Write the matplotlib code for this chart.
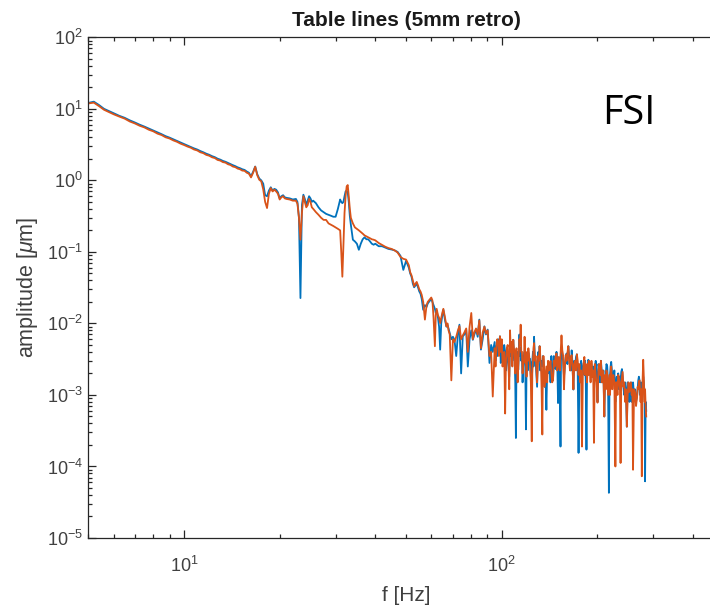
import matplotlib
matplotlib.use('Agg')
import matplotlib.pyplot as plt
from matplotlib.ticker import LogLocator, NullFormatter, FixedLocator

# ---------------- data ----------------
freq_low = [5.0, 5.2, 5.4, 5.6, 5.8, 6.0, 6.25, 6.5, 6.75, 7.0,
            7.25, 7.5, 7.75, 8.0, 8.25, 8.5, 8.75, 9.0, 9.25, 9.5,
            9.75, 10.0, 10.25, 10.5, 10.75, 11.0, 11.25, 11.5, 11.75, 12.0,
            12.25, 12.5, 12.75, 13.0, 13.25, 13.5, 13.75, 14.0, 14.25, 14.5,
            14.75, 15.0, 15.25, 15.5, 15.75, 16.0]
blue_low = [12.1, 12.6, 11.3, 10.0, 9.3, 8.7, 8.0, 7.5, 6.9, 6.45,
            6.0, 5.65, 5.3, 5.0, 4.68, 4.42, 4.15, 3.96, 3.75, 3.56,
            3.38, 3.22, 3.07, 2.94, 2.8, 2.7, 2.57, 2.47, 2.36, 2.28,
            2.18, 2.11, 2.01, 1.95, 1.87, 1.82, 1.75, 1.69, 1.63, 1.58,
            1.52, 1.48, 1.43, 1.4, 1.33, 1.28]
orange_low = [11.9, 12.2, 10.9, 9.7, 9.0, 8.4, 7.8, 7.3, 6.65, 6.25,
              5.8, 5.5, 5.1, 4.85, 4.5, 4.3, 4.0, 3.85, 3.62, 3.46,
              3.26, 3.12, 2.97, 2.86, 2.7, 2.62, 2.47, 2.4, 2.27, 2.21,
              2.1, 2.05, 1.93, 1.89, 1.8, 1.77, 1.68, 1.64, 1.56, 1.53,
              1.46, 1.43, 1.37, 1.36, 1.28, 1.24]

freq_mid = [16.25, 16.5, 16.75, 17.0, 17.25, 17.5, 17.75, 18.0, 18.25, 18.5,
            18.75, 19.0, 19.25, 19.5, 19.75, 20.0, 20.25, 20.5, 20.75, 21.0,
            21.5, 22.0, 22.5, 22.75, 23.0, 23.25, 23.5, 23.75, 24.0, 24.25,
            24.5, 24.75, 25.0, 25.25, 25.5, 26.0, 26.5, 27.0, 27.5, 28.0,
            28.5, 29.0, 29.5, 30.0, 30.5, 31.0, 31.25, 31.5, 31.75, 32.0,
            32.25, 32.5, 32.75, 33.0, 33.25, 33.5, 34.0, 34.5, 35.0, 35.5,
            36.0, 36.5, 37.0, 37.5, 38.0, 38.5, 39.0, 39.5, 40.0, 41.0,
            42.0, 43.0, 44.0, 45.0, 46.0, 47.0, 48.0, 49.0, 50.0]
blue_mid = [1.14, 1.32, 1.56, 1.22, 1.06, 1.0, 0.9, 0.62, 0.6, 0.72,
            0.8, 0.72, 0.76, 0.74, 0.68, 0.56, 0.6, 0.62, 0.58, 0.57,
            0.56, 0.54, 0.55, 0.5, 0.3, 0.0226, 0.45, 0.63, 0.55, 0.45,
            0.52, 0.6, 0.56, 0.5, 0.52, 0.48, 0.42, 0.38, 0.36, 0.34,
            0.33, 0.32, 0.31, 0.31, 0.4, 0.54, 0.5, 0.48, 0.5, 0.6,
            0.7, 0.72, 0.68, 0.5, 0.32, 0.24, 0.148, 0.14, 0.13, 0.107,
            0.13, 0.15, 0.16, 0.15, 0.15, 0.14, 0.13, 0.126, 0.13, 0.12,
            0.12, 0.115, 0.11, 0.108, 0.105, 0.1, 0.088, 0.056, 0.075]
orange_mid = [1.1, 1.28, 1.55, 1.18, 1.02, 0.97, 0.75, 0.5, 0.41, 0.65,
              0.78, 0.7, 0.74, 0.7, 0.65, 0.54, 0.58, 0.6, 0.56, 0.55,
              0.54, 0.52, 0.52, 0.47, 0.3, 0.148, 0.35, 0.6, 0.5, 0.42,
              0.45, 0.55, 0.5, 0.42, 0.4, 0.36, 0.33, 0.3, 0.28, 0.28,
              0.25, 0.24, 0.23, 0.22, 0.21, 0.2, 0.1, 0.045, 0.12, 0.35,
              0.6, 0.82, 0.86, 0.6, 0.4, 0.3, 0.25, 0.22, 0.21, 0.2,
              0.19, 0.18, 0.17, 0.165, 0.16, 0.155, 0.15, 0.148, 0.145, 0.133,
              0.125, 0.118, 0.113, 0.11, 0.105, 0.098, 0.085, 0.08, 0.078]

freq_high = [51.0, 51.5, 52.0, 52.5, 53.0, 53.5, 54.0, 54.5, 55.0, 55.5,
             56.0, 56.6, 57.3, 58.0, 58.5, 59.0, 59.5, 60.0, 60.5, 61.0,
             61.6, 62.0, 62.4, 63.0, 63.5, 64.0, 64.5, 65.0, 65.5, 66.3,
             67.0, 67.5, 68.0, 68.6, 69.4, 70.2, 71.0, 71.9, 72.8, 73.6,
             74.5, 75.4, 76.3, 77.3, 78.2, 79.2, 80.2, 81.1, 82.0, 83.0,
             84.0, 85.0, 86.0, 87.1, 88.2, 89.2, 90.3, 91.5, 92.6, 93.7]
blue_high = [0.06, 0.05, 0.045, 0.036, 0.032, 0.034, 0.036, 0.032, 0.028, 0.026,
             0.022, 0.0155, 0.018, 0.017, 0.019, 0.02, 0.021, 0.022, 0.02, 0.018,
             0.016, 0.014, 0.015, 0.012, 0.009, 0.0043, 0.01, 0.013, 0.0155, 0.011,
             0.009, 0.0095, 0.0085, 0.0073, 0.006, 0.0065, 0.0059, 0.0035, 0.007, 0.0096,
             0.002, 0.0066, 0.007, 0.0082, 0.0025, 0.006, 0.008, 0.0059, 0.007, 0.0082,
             0.0065, 0.0113, 0.0043, 0.006, 0.0091, 0.007, 0.0082, 0.0028, 0.005, 0.004]
orange_high = [0.065, 0.052, 0.047, 0.04, 0.033, 0.036, 0.038, 0.034, 0.03, 0.028,
               0.025, 0.02, 0.0113, 0.018, 0.02, 0.021, 0.022, 0.023, 0.021, 0.012,
               0.0048, 0.013, 0.016, 0.013, 0.012, 0.0101, 0.012, 0.014, 0.016, 0.012,
               0.0091, 0.01, 0.008, 0.007, 0.0016, 0.006, 0.0055, 0.0065, 0.008, 0.0092,
               0.006, 0.0068, 0.0075, 0.0085, 0.004, 0.009, 0.014, 0.006, 0.0075, 0.0085,
               0.007, 0.011, 0.0045, 0.0075, 0.009, 0.0072, 0.008, 0.0035, 0.004, 0.00095]

freq_top = [95.0, 95.6, 96.2, 96.8, 97.4, 98.0, 98.7, 99.3, 100.0, 100.6,
            101.2, 101.8, 102.5, 103.1, 103.8, 104.4, 105.0, 105.6, 106.2, 106.8,
            107.4, 108.0, 108.7, 109.2, 109.8, 110.3, 110.8, 111.3, 111.8, 112.2,
            112.7, 113.2, 113.7, 114.2, 114.7, 115.2, 115.8, 116.3, 116.9, 117.5,
            118.0, 118.6, 119.2, 119.7, 120.2, 120.7, 121.3, 122.0, 122.8, 123.5,
            124.3, 124.8, 125.4, 125.9, 126.4, 127.1, 127.8, 128.5, 129.2, 129.8,
            130.4, 131.0, 131.6, 132.2, 132.9, 133.5, 134.2, 134.7, 135.3, 135.9,
            136.5, 137.3, 138.2, 139.0, 139.9, 140.7, 141.6, 142.4, 143.3, 144.1,
            145.0, 145.9, 146.8, 147.7, 148.7, 149.5, 150.4, 151.1, 151.8, 152.4,
            153.1, 153.6, 154.2, 155.1, 156.0, 157.0, 158.0, 159.0, 160.0, 161.0,
            162.0, 163.0, 164.0, 165.0, 166.0, 167.0, 168.1, 169.1, 170.2, 171.3,
            172.4, 173.4, 174.5, 175.6, 176.7, 177.8, 178.9, 180.0, 181.1, 182.0,
            183.0, 183.9, 184.8, 185.6, 186.4, 187.2, 188.0, 189.2, 190.4, 191.6,
            192.8, 194.0, 195.1, 196.3, 197.6, 198.9, 200.2, 201.5, 202.7, 204.0,
            205.2, 206.4, 207.7, 209.0, 210.3, 211.4, 212.5, 213.6, 214.8, 216.1,
            217.4, 218.3, 219.2, 220.1, 221.1, 222.8, 224.5, 226.2, 227.9, 229.0,
            230.2, 231.4, 232.6, 233.6, 234.6, 235.6, 236.6, 237.8, 239.0, 240.2,
            241.5, 243.0, 244.5, 246.0, 247.6, 249.1, 250.7, 252.2, 253.8, 255.1,
            256.4, 257.7, 259.0, 260.9, 262.8, 264.7, 266.7, 267.8, 269.0, 270.2,
            271.4, 272.4, 273.5, 274.7, 276.0, 277.4, 278.8, 280.0, 281.0, 281.8,
            282.6, 283.8, 285.0]
blue_top = [0.0055, 0.003, 0.0048, 0.0035, 0.006, 0.004, 0.0066, 0.0028, 0.005, 0.004,
            0.0031, 0.005, 0.004, 0.0022, 0.0043, 0.0035, 0.0025, 0.0018, 0.005, 0.0035,
            0.0045, 0.003, 0.0059, 0.004, 0.003, 0.0015, 0.00025, 0.003, 0.004, 0.0032,
            0.00225, 0.0038, 0.007, 0.0035, 0.0045, 0.003, 0.0035, 0.0015, 0.0028, 0.0035,
            0.004, 0.0025, 0.00033, 0.0025, 0.003, 0.0022, 0.0039, 0.0028, 0.0032, 0.0018,
            0.0028, 0.003, 0.004, 0.0025, 0.0065, 0.0035, 0.003, 0.002, 0.0013, 0.0028,
            0.004, 0.003, 0.0048, 0.0022, 0.003, 0.0028, 0.0025, 0.0035, 0.003, 0.002,
            0.0013, 0.002, 0.00062, 0.0022, 0.002, 0.0028, 0.0025, 0.0015, 0.0035, 0.002,
            0.0016, 0.0035, 0.003, 0.0023, 0.004, 0.003, 0.00077, 0.0028, 0.0026, 0.0014,
            0.00019, 0.003, 0.0042, 0.0036, 0.003, 0.0018, 0.0025, 0.0034, 0.0038, 0.0027,
            0.0048, 0.0036, 0.003, 0.0022, 0.0042, 0.0027, 0.00119, 0.003, 0.0025, 0.0034,
            0.0037, 0.0022, 0.000155, 0.0019, 0.0023, 0.003, 0.0019, 0.0023, 0.0028, 0.0019,
            0.003, 0.0015, 0.000172, 0.0023, 0.0025, 0.0031, 0.003, 0.0019, 0.0023, 0.0028,
            0.0019, 0.0025, 0.0015, 0.0023, 0.003, 0.0019, 0.0008, 0.0027, 0.0023, 0.0015,
            0.003, 0.0022, 0.0015, 0.0022, 0.0005, 0.0015, 0.0019, 0.0027, 0.0025, 0.0015,
            0.0000428, 0.0012, 0.0019, 0.0025, 0.0029, 0.0019, 0.0015, 0.0022, 0.0008, 0.0015,
            0.0018, 0.0012, 0.002, 0.0015, 0.0012, 0.0018, 0.0015, 0.0021, 0.0023, 0.0018,
            0.0013, 0.001, 0.0015, 0.0012, 0.00036, 0.0015, 0.0012, 0.0008, 0.0013, 0.0015,
            0.0008, 0.0012, 0.0015, 0.001, 0.0012, 0.0008, 0.00095, 0.0012, 0.0016, 0.0018,
            0.0016, 0.001, 0.0012, 0.0015, 0.0013, 0.0012, 0.0018, 0.0015, 0.0012, 0.0009,
            0.000062, 0.0008, 0.0006]
orange_top = [0.0045, 0.0025, 0.0048, 0.006, 0.0055, 0.0035, 0.0066, 0.004, 0.006, 0.0025,
              0.0035, 0.004, 0.00055, 0.003, 0.0045, 0.005, 0.0028, 0.0012, 0.008, 0.004,
              0.0055, 0.0025, 0.0059, 0.0045, 0.004, 0.002, 0.0035, 0.0045, 0.003, 0.0015,
              0.0025, 0.004, 0.006, 0.005, 0.0096, 0.004, 0.004, 0.002, 0.0028, 0.003,
              0.0065, 0.0028, 0.0035, 0.0018, 0.004, 0.003, 0.0045, 0.0035, 0.0025, 0.0015,
              0.000225, 0.002, 0.003, 0.0045, 0.0053, 0.003, 0.0035, 0.0025, 0.0015, 0.0025,
              0.0035, 0.003, 0.0048, 0.0035, 0.0025, 0.0012, 0.00028, 0.002, 0.0035, 0.0025,
              0.0013, 0.0018, 0.0025, 0.0015, 0.003, 0.0022, 0.0025, 0.003, 0.002, 0.0015,
              0.0016, 0.003, 0.0025, 0.0034, 0.0038, 0.0022, 0.0025, 0.0034, 0.003, 0.0022,
              0.0036, 0.0048, 0.0068, 0.0042, 0.0036, 0.0012, 0.0025, 0.0036, 0.003, 0.0039,
              0.0048, 0.003, 0.0022, 0.0034, 0.0036, 0.0025, 0.0012, 0.0027, 0.003, 0.0022,
              0.0037, 0.003, 0.0019, 0.0027, 0.0015, 0.0022, 0.00019, 0.0019, 0.0028, 0.0034,
              0.0019, 0.0027, 0.0025, 0.0015, 0.0027, 0.0019, 0.003, 0.0025, 0.0015, 0.003,
              0.0018, 0.0022, 0.000214, 0.0027, 0.0019, 0.0015, 0.00078, 0.0022, 0.0027, 0.0019,
              0.003, 0.0015, 0.0022, 0.0018, 0.0005, 0.0019, 0.0012, 0.0022, 0.0019, 0.001,
              0.0015, 0.0019, 0.001, 0.0019, 0.0025, 0.0012, 0.0019, 0.0015, 0.0001, 0.0015,
              0.0015, 0.001, 0.0019, 0.0018, 0.0015, 0.0012, 0.000112, 0.0015, 0.0018, 0.0021,
              0.0013, 0.0015, 0.0008, 0.0012, 0.00036, 0.001, 0.0015, 0.0011, 0.0013, 0.0015,
              0.001, 0.0012, 0.00009, 0.0012, 0.0011, 0.0007, 0.00095, 0.0013, 0.0012, 0.0015,
              0.0016, 0.0012, 0.0008, 0.0012, 0.000073, 0.0015, 0.0031, 0.0018, 0.001, 0.0008,
              0.0012, 0.0007, 0.0005]

freq = freq_low + freq_mid + freq_high + freq_top
amp_blue = blue_low + blue_mid + blue_high + blue_top
amp_orange = orange_low + orange_mid + orange_high + orange_top
assert len(freq) == len(amp_blue) == len(amp_orange)

title_text = 'Table lines (5mm retro)'
xlabel_text = 'f [Hz]'
ylabel_text = r'amplitude [$\mu$m]'
note_text = 'FSI'
x_major = [1e1, 1e2]
y_major = [1e-5, 1e-4, 1e-3, 1e-2, 1e-1, 1e0, 1e1, 1e2]

# ---------------- figure ----------------
plt.rcParams['font.family'] = ['Liberation Sans', 'DejaVu Sans']
plt.rcParams['mathtext.fontset'] = 'custom'
plt.rcParams['mathtext.rm'] = 'Liberation Sans'
plt.rcParams['mathtext.it'] = 'Liberation Sans:italic'

W, H = 710, 608
fig = plt.figure(figsize=(W / 100, H / 100), dpi=100)
ax = fig.add_axes([88.4 / W, 70 / H, 635.4 / W, 500.7 / H])

ax.plot(freq, amp_blue, color='#0072BD', lw=1.3)
ax.plot(freq, amp_orange, color='#D95319', lw=1.3)

ax.set_xscale('log')
ax.set_yscale('log')
ax.set_xlim(5, 500)
ax.set_ylim(1e-5, 1e2)
ax.xaxis.set_major_locator(FixedLocator(x_major))
ax.yaxis.set_major_locator(FixedLocator(y_major))
ax.yaxis.set_minor_locator(LogLocator(base=10, subs=range(2, 10), numticks=100))
ax.xaxis.set_minor_locator(LogLocator(base=10, subs=range(2, 10), numticks=100))
ax.xaxis.set_minor_formatter(NullFormatter())
ax.yaxis.set_minor_formatter(NullFormatter())

ax.tick_params(which='both', direction='in', top=True, right=True,
               color='#262626', labelcolor='#404040', labelsize=13, width=0.9)
ax.tick_params(which='major', length=5.5)
ax.tick_params(which='minor', length=3)
ax.tick_params(axis='x', which='major', pad=13)
ax.tick_params(axis='y', which='major', pad=4)
for s in ax.spines.values():
    s.set_color('#262626')
    s.set_linewidth(0.9)

ax.set_title(title_text, fontweight='bold', fontsize=15, color='#1a1a1a', pad=8)
ax.set_xlabel(xlabel_text, fontsize=15, color='#404040', labelpad=7)
ax.set_ylabel(ylabel_text, fontsize=15.5, color='#404040', labelpad=5)

fig.text(602 / W, 1 - 124 / H, note_text, fontsize=28.5, family='Open Sans',
         ha='left', va='baseline', color='black')

fig.savefig('out.png', dpi=100)
